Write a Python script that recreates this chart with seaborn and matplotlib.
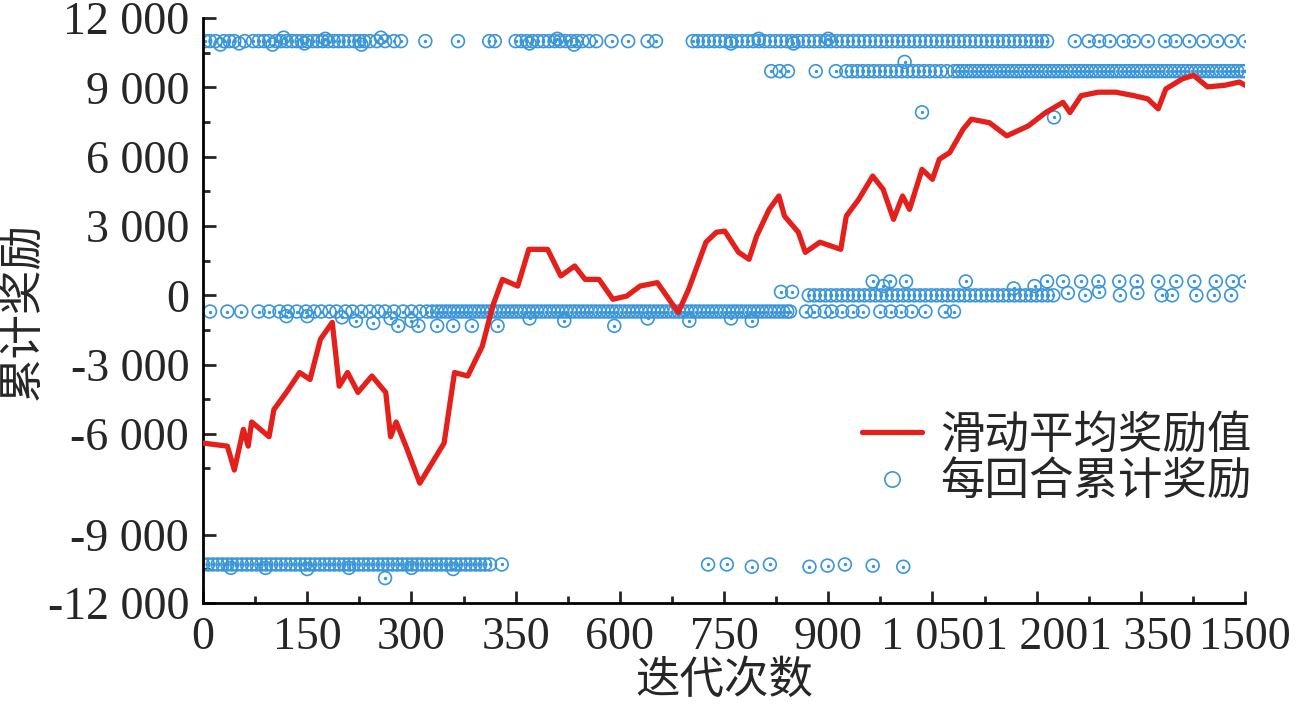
import numpy as np
import pandas as pd
import matplotlib
matplotlib.use('Agg')
import matplotlib.pyplot as plt
from matplotlib.lines import Line2D
import seaborn as sns

# moving-average reward
line_x = [0, 35, 45, 58, 65, 70, 95, 102, 120, 139, 154, 169, 186, 196, 208, 223, 243,
          263, 270, 278, 292, 312, 327, 347, 362, 381, 402, 417, 431, 453, 469, 496, 515,
          535, 550, 570, 590, 610, 629, 654, 684, 699, 724, 739, 751, 771, 786, 797, 815,
          829, 837, 857, 867, 888, 918, 926, 944, 964, 979, 994, 1007, 1017, 1035, 1050,
          1060, 1075, 1094, 1106, 1132, 1157, 1188, 1213, 1238, 1248, 1264, 1289, 1314,
          1340, 1360, 1375, 1386, 1410, 1426, 1446, 1471, 1492, 1500]
line_y = [-6270, -6360, -7070, -5800, -6360, -5480, -6080, -4940, -4200, -3340, -3640,
          -1900, -1170, -3930, -3340, -4200, -3490, -4200, -6080, -5480, -6360, -7460,
          -6950, -6270, -3340, -3490, -2200, -460, 690, 400, 1990, 1990, 840, 1270, 690,
          690, -170, -30, 400, 550, -740, 260, 2300, 2730, 2780, 1860, 1560, 2570, 3720,
          4300, 3430, 2730, 1860, 2300, 1990, 3430, 4160, 5160, 4590, 3290, 4300, 3720,
          5450, 5020, 5890, 6180, 7180, 7620, 7470, 6900, 7330, 7910, 8350, 7910, 8640,
          8790, 8790, 8640, 8500, 8070, 8930, 9370, 9520, 9020, 9090, 9230, 9090]

# episode rewards, grouped by level
top_x = [3, 10, 18, 30, 38, 45, 60, 72, 80, 88, 95, 105, 112, 120, 128, 135, 142, 150, 158,
         165, 172, 180, 188, 195, 202, 210, 218, 225, 232, 240, 250, 262, 275, 285, 320,
         367, 412, 420, 450, 458, 466, 474, 482, 490, 498, 506, 514, 522, 530, 538, 546,
         556, 566, 588, 612, 640, 652, 705, 712, 720, 728, 736, 744, 752, 760, 768, 776,
         784, 792, 800, 808, 816, 824, 832, 840, 848, 856, 864, 872, 880, 888, 896, 904,
         912, 920, 928, 936, 944, 952, 960, 968, 976, 984, 992, 1000, 1008, 1016, 1024,
         1032, 1040, 1048, 1056, 1064, 1072, 1080, 1088, 1096, 1104, 1112, 1120, 1128,
         1136, 1144, 1152, 1160, 1168, 1176, 1184, 1192, 1200, 1208, 1215, 1255, 1275,
         1290, 1305, 1325, 1340, 1360, 1385, 1400, 1420, 1440, 1460, 1480, 1500]
top_level = 11000
top_off_x = [25, 52, 100, 116, 146, 176, 228, 256, 470, 510, 534, 760, 800, 850, 900]
top_off_y = [10850, 10900, 10850, 11150, 10900, 11100, 10850, 11150, 10900, 11100, 10850,
             10900, 11100, 10900, 11100]

high_x = [818, 830, 842, 882, 911, 926, 934, 942, 950, 958, 966, 974, 982, 990, 998, 1006,
          1014, 1022, 1030, 1038, 1046, 1054, 1062, 1071, 1081, 1087, 1093, 1099, 1105,
          1111, 1117, 1123, 1129, 1135, 1141, 1147, 1153, 1159, 1165, 1171, 1177, 1183,
          1189, 1195, 1201, 1207, 1213, 1219, 1225, 1231, 1237, 1243, 1249, 1255, 1261,
          1267, 1273, 1279, 1285, 1291, 1297, 1303, 1309, 1315, 1321, 1327, 1333, 1339,
          1345, 1351, 1357, 1363, 1369, 1375, 1381, 1387, 1393, 1399, 1405, 1411, 1417,
          1423, 1429, 1435, 1441, 1447, 1453, 1459, 1465, 1471, 1477, 1483, 1489, 1495, 1500]
high_level = 9700

mid_x = [10, 35, 55, 80, 95, 110, 122, 135, 148, 160, 170, 182, 192, 205, 215, 228, 240,
         252, 262, 275, 288, 300, 312, 322, 330, 337, 343, 349, 355, 361, 367, 373, 379,
         385, 391, 397, 403, 409, 415, 421, 427, 433, 439, 445, 451, 457, 463, 469, 475,
         481, 487, 493, 499, 505, 511, 517, 523, 529, 535, 541, 547, 553, 559, 565, 571,
         577, 583, 589, 595, 601, 607, 613, 619, 625, 631, 637, 643, 649, 655, 661, 667,
         673, 679, 685, 691, 697, 703, 709, 715, 721, 727, 733, 739, 745, 751, 757, 763,
         769, 775, 781, 787, 793, 799, 805, 811, 817, 823, 829, 835, 841, 845, 868, 880,
         895, 905, 920, 935, 950, 975, 990, 1005, 1020, 1040, 1068, 1081]
mid_level = -700

low_mid_x = [120, 150, 200, 220, 245, 270, 281, 300, 310, 337, 360, 387, 424, 470, 520,
             592, 640, 700, 760, 790]
low_mid_y = [-900, -900, -950, -1100, -1200, -1000, -1320, -1100, -1320, -1320, -1320,
             -1320, -1320, -1000, -1100, -1320, -1000, -1100, -1000, -1100]

zero_dense_x = [872, 880, 888, 896, 904, 912, 920, 928, 936, 944, 952, 960, 968, 976, 984,
                992, 1000, 1008, 1016, 1024, 1032, 1040, 1048, 1056, 1064, 1072, 1080, 1088,
                1096, 1104, 1112, 1120, 1128, 1136, 1144, 1152, 1160, 1168, 1176, 1184, 1192,
                1200, 1208, 1216, 1224]
zero_level = 0
zero_x = [832, 848, 1245, 1270, 1290, 1320, 1345, 1380, 1395, 1430, 1455, 1480]
zero_y = [150, 150, 100, 0, 150, 0, 100, 0, 0, 0, 0, 0]

pos_x = [964, 979, 989, 1012, 1098, 1167, 1197, 1215, 1238, 1264, 1289, 1319, 1344, 1375,
         1401, 1427, 1458, 1482, 1500]
pos_y = [600, 400, 600, 600, 600, 300, 400, 600, 600, 600, 600, 600, 600, 600, 600, 600,
         600, 600, 600]

odd_x = [1010, 1035, 1225]
odd_y = [10100, 7920, 7700]

bottom_dense_x = [0, 7, 14, 21, 28, 35, 42, 49, 56, 63, 70, 77, 84, 91, 98, 105, 112, 119,
                  126, 133, 140, 147, 154, 161, 168, 175, 182, 189, 196, 203, 210, 217, 224,
                  231, 238, 245, 252, 259, 266, 273, 280, 287, 294, 301, 308, 315, 322, 329,
                  336, 343, 350, 357, 364, 371, 378, 385, 392, 399, 406, 413, 430]
bottom_level = -10300
bottom_x = [262, 727, 754, 790, 816, 873, 899, 924, 964, 1008, 40, 90, 150, 210, 300, 360]
bottom_y = [-10900, -10300, -10300, -10400, -10300, -10400, -10350, -10300, -10350, -10400,
            -10450, -10450, -10500, -10450, -10450, -10500]

ytick_vals = [12000, 9000, 6000, 3000, 0, -3000, -6000, -9000, -12000]
ytick_labels = ['12 000', '9 000', '6 000', '3 000', '0', '-3 000', '-6 000', '-9 000', '-12 000']
xtick_vals = [0, 150, 300, 450, 600, 750, 900, 1050, 1200, 1350, 1500]
xtick_labels = ['0', '150', '300', '350', '600', '750', '900', '1 050', '1 200', '1 350', '1500']

sns.set_style('ticks')
plt.rcParams['font.family'] = ['Liberation Serif', 'Noto Sans CJK SC']
cjk = ['Noto Sans CJK SC']

blue = '#3a96d8'
red = '#e3201b'

xs = (top_x + high_x + mid_x + zero_dense_x + bottom_dense_x
      + top_off_x + low_mid_x + zero_x + pos_x + odd_x + bottom_x)
ys = ([top_level] * len(top_x) + [high_level] * len(high_x) + [mid_level] * len(mid_x)
      + [zero_level] * len(zero_dense_x) + [bottom_level] * len(bottom_dense_x)
      + top_off_y + low_mid_y + zero_y + pos_y + odd_y + bottom_y)
pts = pd.DataFrame({'x': xs, 'y': ys})
avg = pd.DataFrame({'x': line_x, 'y': line_y})

# the original y axis is drawn unevenly below -6000
yb = [-100000, -12000, -9000, -6000, 12000, 100000]
vb = [-585 - 88000 * 0.0231, -585, -517, -416, 0, 88000 * 0.0231]
def fwd(y):
    return np.interp(y, yb, vb)
def inv(v):
    return np.interp(v, vb, yb)

fig = plt.figure(figsize=(13, 7.09), dpi=100)
ax = fig.add_axes([0.1562, 0.1495, 0.8015, 0.8251])
ax.set_yscale('function', functions=(fwd, inv))

sns.scatterplot(data=pts, x='x', y='y', ax=ax, marker='o', s=85, facecolors='none',
                edgecolor=blue, linewidth=1.2, zorder=2)
ax.scatter(pts['x'], pts['y'], s=2, color=blue, zorder=2)
sns.lineplot(data=avg, x='x', y='y', ax=ax, color=red, linewidth=3.8, sort=False,
             estimator=None, zorder=3)

ax.set_xlim(0, 1500)
ax.set_ylim(-12000, 12000)
ax.set_xticks(xtick_vals)
ax.set_xticklabels(xtick_labels)
ax.set_xticks([75 + 150 * i for i in range(10)], minor=True)
ax.set_yticks(ytick_vals)
ax.set_yticklabels(ytick_labels)
ax.set_yticks([10500, 7500, 4500, 1500, -1500, -4500, -7000, -10500], minor=True)
ax.tick_params(axis='both', which='major', direction='in', length=9, width=2,
               labelsize=33, pad=10)
ax.tick_params(axis='both', which='minor', direction='in', length=5, width=2)
sns.despine(ax=ax)
for s in ['left', 'bottom']:
    ax.spines[s].set_linewidth(2)
    ax.spines[s].set_color('black')

ax.set_xlabel('迭代次数', fontsize=32, family=cjk, weight='medium', labelpad=-2)
ax.set_ylabel('累计奖励', fontsize=32, family=cjk, weight='medium', labelpad=2)

handles = [Line2D([], [], color=red, linewidth=3.8),
           Line2D([], [], marker='o', linestyle='none', markersize=11, markerfacecolor='none',
                  markeredgecolor=blue, markeredgewidth=1.2)]
fig.legend(handles, ['滑动平均奖励值', '每回合累计奖励'], loc='upper left',
           bbox_to_anchor=(0.646, 0.451), frameon=False, borderpad=0,
           prop={'family': cjk, 'size': 32, 'weight': 'medium'},
           handlelength=1.35, handletextpad=0.4, labelspacing=0.02)

fig.savefig('out.png', dpi=100)
